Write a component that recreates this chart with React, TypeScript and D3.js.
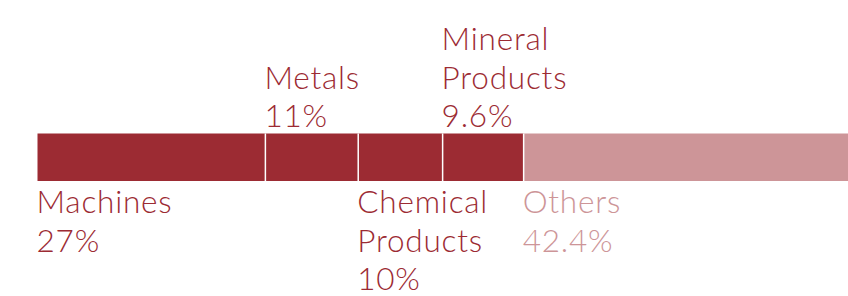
import React from "react";
import * as d3 from "d3";

const categories = ["Machines", "Metals", "Chemical Products", "Mineral Products", "Others"];
const shares = [27, 11, 10, 9.6, 42.4];
const valueLabels = ["27%", "11%", "10%", "9.6%", "42.4%"];
const labelLines = [["Machines"], ["Metals"], ["Chemical", "Products"], ["Mineral", "Products"], ["Others"]];
const labelSide = ["below", "above", "below", "above", "below"];

const W = 848;
const H = 296;
const DARK = "#9c2b33";
const LIGHT = "#cd9598";

export default function App() {
  const x = d3.scaleLinear().domain([0, 100]).range([37.5, 881.5]);
  const starts = d3.cumsum([0, ...shares.slice(0, -1)]);
  const barTop = 133.5;
  const barH = 47.5;
  const lineH = 38.5;
  const fontSize = 31.5;

  return (
    <svg width={W} height={H} style={{ position: "absolute", left: 0, top: 0 }}>
      {categories.map((c, i) => {
        const x0 = x(starts[i]);
        const x1 = x(starts[i] + shares[i]);
        const color = i === categories.length - 1 ? LIGHT : DARK;
        return (
          <rect key={c} x={x0} y={barTop} width={x1 - x0} height={barH} fill={color} />
        );
      })}
      {categories.slice(1).map((c, i) => {
        const xs = x(starts[i + 1]);
        return <line key={"s" + c} x1={xs} x2={xs} y1={barTop} y2={barTop + barH} stroke="#fff" strokeWidth={1.5} />;
      })}
      {categories.map((c, i) => {
        const lines = [...labelLines[i], valueLabels[i]];
        const color = i === categories.length - 1 ? LIGHT : DARK;
        const tx = x(starts[i]) - 1;
        let baselines: number[];
        if (labelSide[i] === "below") {
          baselines = lines.map((_, k) => 213 + k * lineH);
        } else {
          baselines = lines.map((_, k) => 127 - (lines.length - 1 - k) * lineH);
        }
        return (
          <g key={"t" + c}>
            {lines.map((t, k) => (
              <text
                key={k}
                x={tx}
                y={baselines[k]}
                fill={color}
                fontFamily="Lato, 'Open Sans', sans-serif"
                fontWeight={300}
                fontSize={fontSize}
                letterSpacing={0.8}
              >
                {t}
              </text>
            ))}
          </g>
        );
      })}
    </svg>
  );
}
